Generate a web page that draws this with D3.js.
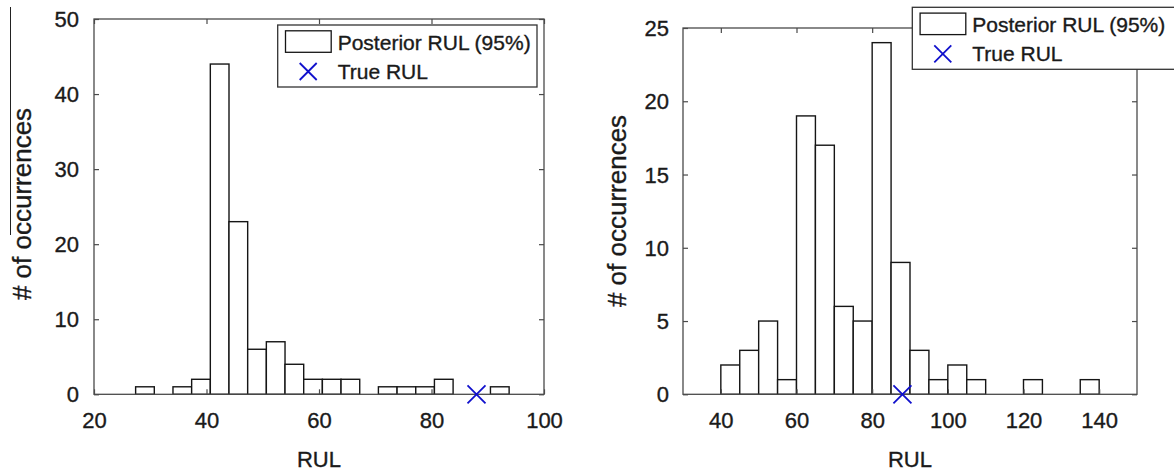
<!DOCTYPE html>
<html>
<head>
<meta charset="utf-8">
<script src="https://cdn.jsdelivr.net/npm/d3@7"></script>
<style>
  html, body { margin: 0; padding: 0; background: #fff; }
  svg { display: block; font-family: "Liberation Sans", Arial, sans-serif; }
  svg text { stroke: #1a1a1a; stroke-width: 0.35px; }
</style>
</head>
<body>
<svg id="chart" width="1174" height="472"></svg>
<script>
// ---------------- data ----------------
const leftBinEdges = [27.4, 30.72, 34.04, 37.36, 40.68, 44.0, 47.32, 50.64, 53.96, 57.28, 60.6,
                      63.92, 67.24, 70.56, 73.88, 77.2, 80.52, 83.84, 87.16, 90.48, 93.8];
const leftCounts   = [1, 0, 1, 2, 44, 23, 6, 7, 4, 2, 2, 2, 0, 1, 1, 1, 2, 0, 0, 1];
const leftTrueRUL  = 88;
const leftXTicks   = [20, 40, 60, 80, 100];
const leftYTicks   = [0, 10, 20, 30, 40, 50];

const rightBinEdges = [40, 45, 50, 55, 60, 65, 70, 75, 80, 85, 90, 95, 100, 105, 110, 115, 120, 125, 130, 135, 140];
const rightCounts   = [2, 3, 5, 1, 19, 17, 6, 5, 24, 9, 3, 1, 2, 1, 0, 0, 1, 0, 0, 1];
const rightTrueRUL  = 88;
const rightXTicks   = [40, 60, 80, 100, 120, 140];
const rightYTicks   = [0, 5, 10, 15, 20, 25];

const legendLabels = ["Posterior RUL (95%)", "True RUL"];
const xLabel = "RUL";
const yLabel = "# of occurrences";

// ---------------- drawing ----------------
const svg = d3.select("#chart");
const TEXT = "#1a1a1a";
const AXIS = "#4a4a4a";
const BAR = "#151515";
const MARK = "#1010cc";

function xMarker(g, cx, cy, r) {
  g.append("path")
    .attr("d", `M${cx - r},${cy - r}L${cx + r},${cy + r}M${cx - r},${cy + r}L${cx + r},${cy - r}`)
    .attr("stroke", MARK).attr("stroke-width", 1.8).attr("fill", "none");
}

function panel(cfg) {
  const x = d3.scaleLinear().domain(cfg.xDomain).range([cfg.left, cfg.right]);
  const y = d3.scaleLinear().domain(cfg.yDomain).range([cfg.bottom, cfg.top]);
  const g = svg.append("g");

  // bins
  const bins = cfg.counts.map((c, i) => ({ x0: cfg.edges[i], x1: cfg.edges[i + 1], c }))
                         .filter(d => d.c > 0);
  g.append("g").selectAll("rect").data(bins).join("rect")
    .attr("x", d => x(d.x0))
    .attr("y", d => y(d.c))
    .attr("width", d => x(d.x1) - x(d.x0))
    .attr("height", d => y(0) - y(d.c))
    .attr("fill", "#fff")
    .attr("stroke", BAR)
    .attr("stroke-width", 1.4);

  // axes
  const fs = "22px";
  const bottomAx = g.append("g").attr("transform", `translate(0,${cfg.bottom})`)
    .call(d3.axisBottom(x).tickValues(cfg.xTicks).tickSizeInner(-5).tickSizeOuter(0).tickPadding(18));
  const topAx = g.append("g").attr("transform", `translate(0,${cfg.top})`)
    .call(d3.axisTop(x).tickValues(cfg.xTicks).tickSizeInner(-5).tickSizeOuter(0).tickFormat(""));
  const leftAx = g.append("g").attr("transform", `translate(${cfg.left},0)`)
    .call(d3.axisLeft(y).tickValues(cfg.yTicks).tickSizeInner(-5).tickSizeOuter(0).tickPadding(cfg.yPad));
  const rightAx = g.append("g").attr("transform", `translate(${cfg.right},0)`)
    .call(d3.axisRight(y).tickValues(cfg.yTicks).tickSizeInner(-5).tickSizeOuter(0).tickFormat(""));
  [bottomAx, topAx, leftAx, rightAx].forEach(a => {
    a.select(".domain").remove();
    a.selectAll(".tick line").attr("stroke", AXIS).attr("stroke-width", 1.2);
    a.selectAll("text").attr("fill", TEXT).style("font-size", fs)
      .style("font-family", '"Liberation Sans", Arial, sans-serif');
  });
  leftAx.selectAll("text").attr("dy", "0.34em");

  // box
  g.append("rect")
    .attr("x", cfg.left).attr("y", cfg.top)
    .attr("width", cfg.right - cfg.left).attr("height", cfg.bottom - cfg.top)
    .attr("fill", "none").attr("stroke", AXIS).attr("stroke-width", 1.3);

  // true RUL marker
  xMarker(g, x(cfg.trueRUL), y(0), 9);

  // axis labels
  g.append("text").attr("x", (cfg.left + cfg.right) / 2).attr("y", 467)
    .attr("text-anchor", "middle").attr("fill", TEXT).style("font-size", "22px").text(xLabel);
  g.append("text")
    .attr("transform", `translate(${cfg.yLabelX},${cfg.yLabelY}) rotate(-90)`)
    .attr("text-anchor", "middle").attr("fill", TEXT).style("font-size", "26px").text(yLabel);

  // legend
  const L = cfg.legend;
  const lg = g.append("g");
  lg.append("rect").attr("x", L.x).attr("y", L.y).attr("width", L.w).attr("height", 62)
    .attr("fill", "#fff").attr("stroke", "#333").attr("stroke-width", 1.3);
  lg.append("rect").attr("x", L.x + 7.8).attr("y", L.y + 5.8).attr("width", 45.7).attr("height", 21.5)
    .attr("fill", "#fff").attr("stroke", BAR).attr("stroke-width", 1.3);
  lg.append("text").attr("x", L.x + 60).attr("y", L.y + 25).attr("fill", TEXT)
    .style("font-size", "21px").text(legendLabels[0]);
  xMarker(lg, L.x + 30.5, L.y + 46.5, 8.5);
  lg.append("text").attr("x", L.x + 60).attr("y", L.y + 54).attr("fill", TEXT)
    .style("font-size", "21px").text(legendLabels[1]);
}

panel({
  left: 94, right: 544, top: 19, bottom: 394.3,
  xDomain: [20, 100], yDomain: [0, 50],
  edges: leftBinEdges, counts: leftCounts, trueRUL: leftTrueRUL,
  xTicks: leftXTicks, yTicks: leftYTicks, yPad: 15,
  yLabelX: 31, yLabelY: 204,
  legend: { x: 277.7, y: 25, w: 259.3 }
});

panel({
  left: 683, right: 1137, top: 28, bottom: 394.3,
  xDomain: [30, 150], yDomain: [0, 25],
  edges: rightBinEdges, counts: rightCounts, trueRUL: rightTrueRUL,
  xTicks: rightXTicks, yTicks: rightYTicks, yPad: 14,
  yLabelX: 626, yLabelY: 211,
  legend: { x: 912.3, y: 7.3, w: 275 }
});

// thin vertical stroke at the far left of the original figure
svg.append("line").attr("x1", 10.5).attr("x2", 10.5).attr("y1", 7).attr("y2", 235)
  .attr("stroke", "#222").attr("stroke-width", 1);
</script>
</body>
</html>
